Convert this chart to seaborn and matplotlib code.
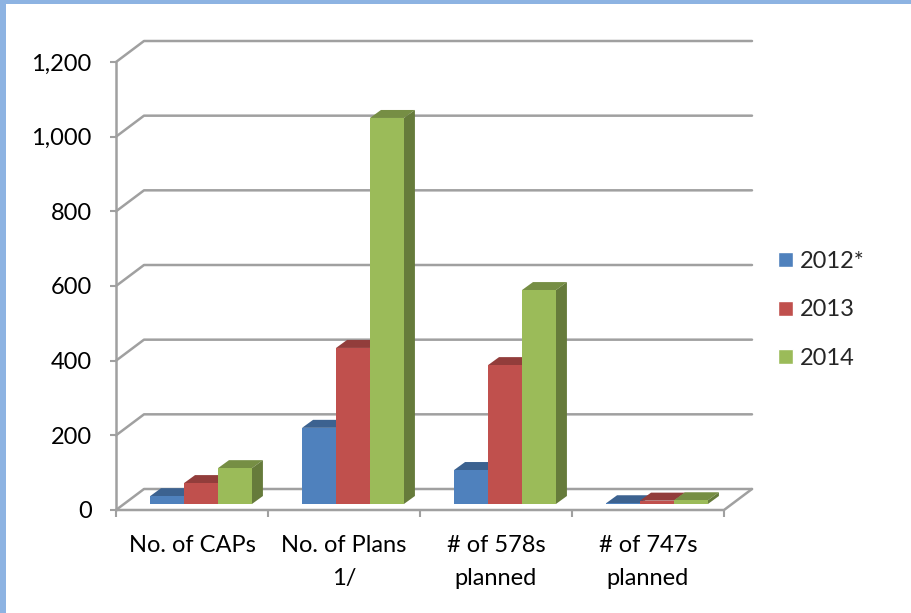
import matplotlib
matplotlib.use("Agg")
import matplotlib.pyplot as plt
import pandas as pd
import seaborn as sns
from matplotlib.colors import to_rgb
from matplotlib.lines import Line2D
from matplotlib.patches import Polygon, Rectangle
from matplotlib.transforms import Affine2D, IdentityTransform

categories = ["No. of CAPs", "No. of Plans\n1/", "# of 578s\nplanned", "# of 747s\nplanned"]
series_names = ["2012*", "2013", "2014"]
values_2012 = [21, 204, 91, 2]
values_2013 = [56, 418, 372, 9]
values_2014 = [96, 1034, 573, 10]
y_ticks = [0, 200, 400, 600, 800, 1000, 1200]
colors = ["#4F81BD", "#C0504D", "#9BBB59"]
GRID = "#A0A0A0"
W, H = 911, 613

sns.set_theme(style="white")
plt.rcParams["font.family"] = ["Lato", "DejaVu Sans"]

df = pd.DataFrame({
    "category": categories * 3,
    "series": [s for s in series_names for _ in categories],
    "value": values_2012 + values_2013 + values_2014,
})

fig = plt.figure(figsize=(W / 100, H / 100), dpi=100, facecolor="white")
ax = fig.add_axes([116 / W, 1 - 510 / H, (724 - 116) / W, (510 - 62) / H])
ax.patch.set_alpha(0)

sns.barplot(data=df, x="category", y="value", hue="series", order=categories,
            hue_order=series_names, palette=colors, width=0.67, gap=0,
            saturation=1, errorbar=None, ax=ax, legend=True)
ax.set_xlim(-0.5, 3.5)
ax.set_ylim(0, 1200)
ax.set_xlabel("")
ax.set_ylabel("")
for s in ax.spines.values():
    s.set_visible(False)

# Page border
fig.add_artist(Rectangle((0, 1 - 4 / H), 1, 4 / H, transform=fig.transFigure, color="#8DB3E2", lw=0))
fig.add_artist(Rectangle((0, 0), 6 / W, 1, transform=fig.transFigure, color="#8DB3E2", lw=0))

# Axis ticks and labels
ax.set_xticks([-0.5, 0.5, 1.5, 2.5, 3.5], labels=[""] * 5)
ax.set_xticks(range(4), labels=categories, minor=True)
ax.set_yticks(y_ticks, labels=[f"{v:,}" for v in y_ticks])
ax.tick_params(axis="x", which="major", length=5, width=1.5, color=GRID, bottom=True)
ax.tick_params(axis="x", which="minor", length=0, pad=18, labelsize=17, labelcolor="black")
ax.tick_params(axis="y", length=4.5, width=1.5, color=GRID, left=True, pad=13, labelsize=17, labelcolor="black")
for lab in ax.get_xticklabels(minor=True):
    lab.set_linespacing(1.7)

px = IdentityTransform()
DX, DY = 28, 21  # wall depth in pixels
lw = 1.8

x0, _ = ax.transData.transform((-0.5, 0))
x1, _ = ax.transData.transform((3.5, 0))
for v in y_ticks:
    _, y = ax.transData.transform((-0.5, v))
    ax.add_line(Line2D([x0, x0 + DX, x1 + DX], [y, y + DY, y + DY], transform=px, color=GRID,
                       lw=lw, zorder=1, clip_on=False))
_, y_bot = ax.transData.transform((-0.5, 0))
_, y_top = ax.transData.transform((-0.5, 1200))
ax.add_line(Line2D([x0, x0], [y_bot, y_top], transform=px, color=GRID, lw=lw, zorder=1, clip_on=False))
ax.add_line(Line2D([x0, x1, x1 + DX], [y_bot, y_bot, y_bot + DY], transform=px, color=GRID,
                   lw=lw, zorder=1, clip_on=False))

# 3-D bars
BX, BY = 9, 6      # shift of bar fronts off the front plane
SX, SY = 11, 8     # bar depth
shift = ax.transData + Affine2D().translate(BX, BY)


def shade(c, f):
    r, g, b = to_rgb(c)
    return (r * f, g * f, b * f)


for i, cont in enumerate(ax.containers):
    for bar in cont:
        bar.set_transform(shift)
        bar.set_clip_on(False)
        bar.set_linewidth(0)
        bar.set_zorder(3 + i)
        l, b = shift.transform((bar.get_x(), 0))
        r, t = shift.transform((bar.get_x() + bar.get_width(), bar.get_height()))
        top = Polygon([(l, t), (r, t), (r + SX, t + SY), (l + SX, t + SY)], closed=True, transform=px,
                      fc=shade(colors[i], 0.76), lw=0, zorder=2.5 + i, clip_on=False)
        side = Polygon([(r, b), (r + SX, b + SY), (r + SX, t + SY), (r, t)], closed=True, transform=px,
                       fc=shade(colors[i], 0.66), lw=0, zorder=2.5 + i, clip_on=False)
        ax.add_patch(top)
        ax.add_patch(side)

leg = ax.get_legend()
handles = leg.legend_handles
labels = [t.get_text() for t in leg.get_texts()]
ax.legend(handles, labels, loc="center left", bbox_to_anchor=(778 / W, 1 - 310 / H),
          bbox_transform=fig.transFigure, frameon=False, fontsize=17, title=None,
          handlelength=0.62, handleheight=0.62, handletextpad=0.3, labelspacing=1.16, borderpad=0, borderaxespad=0)

fig.savefig("out.png", dpi=100, facecolor="white")
